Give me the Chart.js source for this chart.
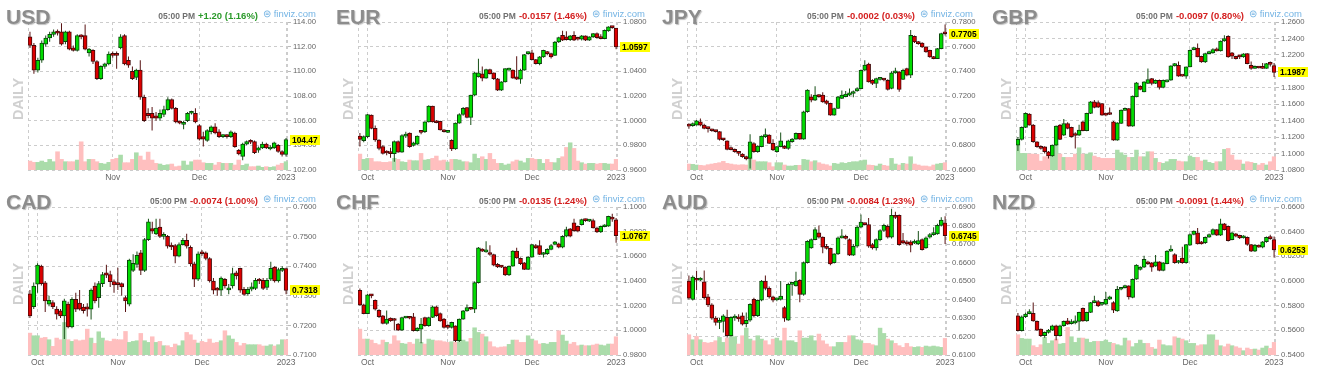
<!DOCTYPE html>
<html><head><meta charset="utf-8">
<script src="https://cdn.jsdelivr.net/npm/chart.js@4.4.1/dist/chart.umd.min.js"></script>
<style>
html,body{margin:0;padding:0;background:#fff;}
body{width:1318px;height:378px;overflow:hidden;position:relative;font-family:'Liberation Sans',Arial,sans-serif;}
.panel{position:absolute;width:330px;height:185px;}
.panel canvas{position:absolute;left:0;top:0;}
.sym{position:absolute;top:5px;font-weight:bold;font-size:21px;line-height:24px;color:#8c8c8c;text-shadow:1px 1px 1px rgba(0,0,0,0.25);}
.daily{position:absolute;left:-12px;top:91px;width:60px;height:16px;line-height:16px;text-align:center;font-weight:bold;font-size:14.5px;color:#d0d0d0;transform:rotate(-90deg);}
.hdr{position:absolute;top:8px;white-space:nowrap;line-height:12px;}
.hdr .t{font-size:8.5px;font-weight:bold;color:#707070;margin-right:3px;}
.hdr .c{font-size:9.5px;font-weight:bold;}
.fv{position:absolute;top:8px;left:262px;font-size:9.5px;line-height:12px;color:#74b4e4;white-space:nowrap;}
</style>
</head><body>
<script>
// ---- categories (trading days) ----
const datesFX = ['09-29','09-30',
 '10-03','10-04','10-05','10-06','10-07','10-10','10-11','10-12','10-13','10-14','10-17','10-18','10-19','10-20','10-21','10-24','10-25','10-26','10-27','10-28','10-31',
 '11-01','11-02','11-03','11-04','11-07','11-08','11-09','11-10','11-11','11-14','11-15','11-16','11-17','11-18','11-21','11-22','11-23','11-24','11-25','11-28','11-29','11-30',
 '12-01','12-02','12-05','12-06','12-07','12-08','12-09','12-12','12-13','12-14','12-15','12-16','12-19','12-20','12-21','12-22','12-23','12-26','12-27','12-28','12-29','12-30',
 '01-02'];
const datesUSD = datesFX.slice(2);
const monthNames = {'09':'Sep','10':'Oct','11':'Nov','12':'Dec','01':'2023'};

// ---- candles: [open, close, high, low] ----
const usdOHLC = [[112.80,112.10,113.20,111.90],[112.10,110.10,112.30,109.80],[110.10,110.90,111.10,109.90],[110.90,112.30,112.50,110.70],[112.20,112.70,112.90,112.00],[112.70,113.00,113.20,112.40],[113.00,113.20,113.40,112.80],[113.20,113.10,113.40,112.90],[113.20,112.20,113.90,112.10],[112.40,113.20,113.30,112.20],
[113.20,111.80,113.30,111.70],[111.90,111.70,112.10,111.60],[111.70,112.90,113.00,111.60],[112.90,112.80,113.00,112.60],[112.90,111.80,113.80,111.70],[111.50,111.80,111.90,111.20],[111.70,110.80,111.80,110.60],[110.80,109.40,110.90,109.30],[109.40,110.40,110.50,109.30],[110.40,110.60,110.70,110.20],
[110.60,111.40,111.60,110.50],[111.40,111.30,111.60,111.10],[111.40,111.30,111.60,110.20],[111.90,112.80,113.00,111.80],[112.90,110.60,113.00,110.50],[110.90,110.50,111.20,110.30],[110.00,109.40,110.40,109.30],[109.50,110.10,110.20,109.30],[110.10,107.90,110.90,107.70],[107.90,106.00,108.10,105.90],
[106.60,106.40,107.00,106.20],[106.60,106.20,107.10,105.20],[106.40,106.20,106.70,106.00],[106.20,106.60,106.90,106.00],[106.50,106.90,107.20,106.30],[106.90,107.70,107.90,106.80],[107.70,107.00,107.80,106.90],[107.00,105.90,107.10,105.80],[105.90,105.80,106.00,105.70],[105.70,105.80,106.00,105.30],
[106.00,106.60,106.70,105.90],[106.60,106.70,106.80,106.50],[106.60,105.90,107.00,105.80],[105.60,104.50,105.70,104.40],[104.70,104.50,105.10,103.90],[104.40,105.20,105.30,104.30],[105.10,105.50,105.60,104.90],[105.50,105.00,105.80,104.90],[105.10,104.70,105.30,104.60],[104.70,104.75,104.90,104.60],
[104.75,104.70,104.90,104.55],[104.70,105.10,105.20,104.60],[105.00,103.90,105.10,103.80],[103.60,103.30,103.70,103.20],[103.10,104.10,104.20,102.80],[104.10,104.30,104.40,104.00],[104.30,104.25,104.50,104.10],[104.30,103.40,104.40,103.30],[103.60,103.80,103.90,103.40],[103.80,104.10,104.30,103.70],
[104.10,103.80,104.20,103.70],[103.70,103.85,104.00,103.60],[103.80,104.20,104.30,103.70],[104.00,103.50,104.10,103.40],[103.50,103.27,103.60,103.10],[103.27,104.47,104.60,103.10]];
const usdVol = [27,23,23,27,23,32,25,55,32,25,25,25,30,85,25,32,32,25,20,18,23,32,35,45,22,22,32,52,42,30,54,30,20,18,14,16,18,10,12,27,15,25,30,30,22,20,20,15,23,20,20,20,15,30,14,18,10,10,12,8,10,8,10,15,20,25];

const eurOHLC = [[0.9875,0.9848,0.9900,0.9790],[0.9837,0.9870,0.9880,0.9825],[0.9870,1.0050,1.0055,0.9860],[1.0045,0.9937,1.0050,0.9930],[0.9937,0.9843,0.9960,0.9830],[0.9843,0.9775,0.9850,0.9760],[0.9790,0.9735,0.9800,0.9725],[0.9742,0.9738,0.9760,0.9720],[0.9740,0.9733,0.9780,0.9700],[0.9733,0.9830,0.9840,0.9667],
[0.9830,0.9745,0.9840,0.9740],[0.9745,0.9880,0.9890,0.9740],[0.9875,0.9885,0.9910,0.9860],[0.9900,0.9790,0.9905,0.9780],[0.9800,0.9820,0.9830,0.9790],[0.9810,0.9875,0.9880,0.9800],[0.9912,0.9905,0.9920,0.9890],[0.9910,0.9990,0.9995,0.9900],[0.9990,1.0118,1.0125,0.9985],[1.0118,0.9990,1.0120,0.9985],
[0.9998,0.9983,1.0005,0.9980],[0.9995,0.9925,1.0000,0.9920],[0.9915,0.9910,0.9930,0.9905],[0.9905,0.9915,0.9920,0.9900],[0.9840,0.9770,0.9850,0.9755],[0.9770,0.9980,0.9985,0.9765],[0.9980,1.0050,1.0060,0.9975],[1.0050,1.0100,1.0110,1.0040],[1.0107,1.0026,1.0110,1.0020],[1.0026,1.0207,1.0210,0.9964],
[1.0207,1.0387,1.0395,1.0200],[1.0355,1.0387,1.0503,1.0350],[1.0380,1.0345,1.0440,1.0320],[1.0345,1.0415,1.0420,1.0340],[1.0415,1.0382,1.0420,1.0375],[1.0387,1.0340,1.0390,1.0330],[1.0340,1.0247,1.0345,1.0240],[1.0247,1.0315,1.0320,1.0240],[1.0315,1.0422,1.0425,1.0310],[1.0410,1.0420,1.0430,1.0405],
[1.0410,1.0345,1.0415,1.0340],[1.0355,1.0336,1.0522,1.0330],[1.0336,1.0410,1.0420,1.0300],[1.0410,1.0536,1.0540,1.0405],[1.0543,1.0550,1.0560,1.0535],[1.0550,1.0495,1.0575,1.0490],[1.0495,1.0463,1.0500,1.0455],[1.0463,1.0517,1.0525,1.0450],[1.0517,1.0570,1.0575,1.0510],[1.0557,1.0544,1.0565,1.0530],
[1.0544,1.0517,1.0550,1.0505],[1.0530,1.0638,1.0645,1.0525],[1.0638,1.0673,1.0680,1.0630],[1.0692,1.0652,1.0730,1.0645],[1.0679,1.0657,1.0725,1.0650],[1.0657,1.0687,1.0695,1.0645],[1.0692,1.0652,1.0725,1.0645],[1.0665,1.0660,1.0680,1.0650],[1.0660,1.0687,1.0695,1.0650],[1.0687,1.0652,1.0690,1.0645],
[1.0652,1.0679,1.0685,1.0645],[1.0679,1.0706,1.0710,1.0670],[1.0706,1.0673,1.0715,1.0665],[1.0680,1.0665,1.0700,1.0660],[1.0665,1.0733,1.0740,1.0660],[1.0727,1.0760,1.0765,1.0720],[1.0762,1.0754,1.0768,1.0745],[1.0750,1.0597,1.0752,1.0580]];
const eurVol = [48,32,35,35,25,25,23,23,25,35,32,25,23,30,28,28,50,30,32,35,42,28,30,24,32,32,30,25,25,22,48,35,40,32,50,32,20,20,15,18,25,30,27,22,35,35,32,32,20,32,23,22,35,40,68,82,65,27,22,18,20,20,18,20,20,18,18,32];

const jpyOHLC = [[0.6972,0.6956,0.6980,0.6935],[0.6960,0.6968,0.6985,0.6950],[0.6964,0.6999,0.7005,0.6960],[0.6991,0.6964,0.7018,0.6955],[0.6964,0.6937,0.6975,0.6930],[0.6945,0.6935,0.6950,0.6905],[0.6929,0.6918,0.6935,0.6910],[0.6918,0.6911,0.6925,0.6905],[0.6911,0.6848,0.6915,0.6840],[0.6855,0.6845,0.6860,0.6835],
[0.6837,0.6767,0.6840,0.6760],[0.6775,0.6765,0.6790,0.6760],[0.6767,0.6748,0.6775,0.6740],[0.6748,0.6735,0.6755,0.6715],[0.6729,0.6708,0.6735,0.6700],[0.6708,0.6689,0.6715,0.6680],[0.6694,0.6829,0.6890,0.6613],[0.6815,0.6748,0.6825,0.6740],[0.6748,0.6794,0.6800,0.6740],[0.6789,0.6875,0.6880,0.6785],
[0.6870,0.6878,0.6937,0.6860],[0.6883,0.6816,0.6890,0.6810],[0.6816,0.6762,0.6850,0.6755],[0.6748,0.6789,0.6795,0.6740],[0.6789,0.6837,0.6905,0.6785],[0.6789,0.6775,0.6800,0.6770],[0.6775,0.6837,0.6845,0.6765],[0.6830,0.6850,0.6860,0.6820],[0.6850,0.6897,0.6905,0.6845],[0.6897,0.6850,0.6900,0.6845],
[0.6850,0.7072,0.7080,0.6845],[0.7072,0.7247,0.7255,0.7065],[0.7193,0.7166,0.7215,0.7150],[0.7166,0.7207,0.7280,0.7160],[0.7207,0.7195,0.7215,0.7185],[0.7207,0.7153,0.7230,0.7145],[0.7160,0.7140,0.7170,0.7130],[0.7140,0.7045,0.7145,0.7040],[0.7045,0.7099,0.7105,0.7040],[0.7099,0.7193,0.7200,0.7095],
[0.7180,0.7207,0.7245,0.7175],[0.7195,0.7215,0.7240,0.7190],[0.7207,0.7225,0.7260,0.7200],[0.7220,0.7235,0.7245,0.7190],[0.7242,0.7260,0.7270,0.7235],[0.7260,0.7409,0.7415,0.7255],[0.7409,0.7450,0.7490,0.7400],[0.7458,0.7315,0.7470,0.7310],[0.7328,0.7301,0.7335,0.7290],[0.7301,0.7342,0.7348,0.7265],
[0.7335,0.7340,0.7345,0.7325],[0.7338,0.7330,0.7345,0.7320],[0.7328,0.7253,0.7335,0.7245],[0.7261,0.7388,0.7400,0.7255],[0.7388,0.7396,0.7430,0.7380],[0.7396,0.7253,0.7400,0.7235],[0.7334,0.7409,0.7420,0.7330],[0.7423,0.7369,0.7430,0.7360],[0.7369,0.7692,0.7735,0.7345],[0.7684,0.7638,0.7690,0.7630],
[0.7638,0.7625,0.7645,0.7615],[0.7630,0.7598,0.7635,0.7590],[0.7598,0.7557,0.7602,0.7550],[0.7571,0.7517,0.7575,0.7510],[0.7520,0.7503,0.7525,0.7498],[0.7503,0.7584,0.7590,0.7500],[0.7584,0.7707,0.7712,0.7580],[0.7712,0.7705,0.7780,0.7690]];
const jpyVol = [18,17,15,14,13,16,18,20,22,26,20,18,16,15,16,15,35,30,25,25,25,22,10,22,22,15,12,12,14,14,32,30,25,28,22,18,16,12,20,18,22,20,23,25,25,28,30,15,14,12,18,14,12,35,18,15,20,18,40,18,15,12,12,10,15,18,20,22];

const gbpOHLC = [[1.1103,1.1172,1.1200,1.1030],[1.1172,1.1318,1.1330,1.1160],[1.1318,1.1488,1.1500,1.1310],[1.1480,1.1346,1.1490,1.1340],[1.1346,1.1144,1.1360,1.1130],[1.1144,1.1083,1.1150,1.1070],[1.1083,1.1063,1.1100,1.1050],[1.1083,1.1022,1.1090,1.1000],[1.1022,1.0970,1.1030,1.0940],[1.0970,1.1103,1.1110,1.0960],
[1.1103,1.1334,1.1340,1.1095],[1.1346,1.1172,1.1360,1.1165],[1.1225,1.1366,1.1420,1.1215],[1.1366,1.1306,1.1380,1.1295],[1.1318,1.1205,1.1325,1.1195],[1.1230,1.1220,1.1260,1.1063],[1.1225,1.1285,1.1350,1.1215],[1.1387,1.1277,1.1395,1.1270],[1.1277,1.1488,1.1495,1.1270],[1.1488,1.1629,1.1640,1.1480],
[1.1629,1.1560,1.1650,1.1550],[1.1620,1.1565,1.1645,1.1555],[1.1609,1.1467,1.1615,1.1460],[1.1480,1.1467,1.1490,1.1455],[1.1490,1.1475,1.1560,1.1470],[1.1387,1.1164,1.1395,1.1155],[1.1164,1.1375,1.1380,1.1155],[1.1366,1.1528,1.1535,1.1360],[1.1525,1.1548,1.1560,1.1520],[1.1548,1.1334,1.1555,1.1325],
[1.1334,1.1698,1.1705,1.1325],[1.1690,1.1860,1.1870,1.1685],[1.1819,1.1779,1.1830,1.1770],[1.1751,1.1872,1.1880,1.1745],[1.1852,1.1900,1.2034,1.1845],[1.1912,1.1852,1.1920,1.1830],[1.1852,1.1892,1.1900,1.1845],[1.1892,1.1803,1.1900,1.1780],[1.1803,1.1892,1.1900,1.1795],[1.1872,1.1892,1.1900,1.1865],
[1.1892,1.2066,1.2075,1.1885],[1.2066,1.2094,1.2100,1.2060],[1.2074,1.1941,1.2120,1.1935],[1.1945,1.1941,1.1950,1.1935],[1.1941,1.2054,1.2060,1.1910],[1.2054,1.2256,1.2265,1.2050],[1.2264,1.2284,1.2300,1.2255],[1.2284,1.2175,1.2340,1.2170],[1.2183,1.2115,1.2190,1.2105],[1.2115,1.2216,1.2225,1.2100],
[1.2216,1.2235,1.2250,1.2210],[1.2224,1.2264,1.2280,1.2215],[1.2264,1.2248,1.2290,1.2240],[1.2248,1.2369,1.2375,1.2240],[1.2369,1.2398,1.2440,1.2360],[1.2426,1.2175,1.2440,1.2165],[1.2224,1.2183,1.2235,1.2150],[1.2183,1.2155,1.2190,1.2145],[1.2195,1.2175,1.2200,1.2150],[1.2175,1.2212,1.2220,1.2165],
[1.2216,1.2094,1.2220,1.2085],[1.2074,1.2034,1.2120,1.2020],[1.2034,1.2062,1.2070,1.2030],[1.2055,1.2040,1.2065,1.2035],[1.2045,1.2036,1.2100,1.2030],[1.2036,1.2094,1.2100,1.2030],[1.2090,1.2084,1.2120,1.2060],[1.2070,1.1987,1.2100,1.1930]];
const gbpVol = [75,50,50,48,48,47,27,40,40,65,78,48,38,38,38,48,67,48,48,52,42,38,35,35,35,35,60,52,45,38,38,60,40,40,55,55,35,23,20,25,32,32,27,25,25,42,38,38,27,30,23,20,25,25,62,65,45,30,30,18,25,23,20,15,20,15,25,40];

const cadOHLC = [[0.7307,0.7232,0.7320,0.7225],[0.7263,0.7333,0.7345,0.7255],[0.7339,0.7404,0.7410,0.7310],[0.7400,0.7341,0.7405,0.7335],[0.7344,0.7283,0.7350,0.7245],[0.7272,0.7285,0.7300,0.7265],[0.7277,0.7263,0.7285,0.7255],[0.7255,0.7238,0.7265,0.7220],[0.7249,0.7232,0.7255,0.7225],[0.7232,0.7283,0.7290,0.7154],
[0.7272,0.7195,0.7280,0.7190],[0.7195,0.7288,0.7295,0.7190],[0.7288,0.7255,0.7310,0.7245],[0.7275,0.7255,0.7320,0.7250],[0.7262,0.7250,0.7272,0.7240],[0.7263,0.7255,0.7275,0.7230],[0.7255,0.7319,0.7325,0.7220],[0.7333,0.7283,0.7345,0.7275],[0.7294,0.7341,0.7350,0.7260],[0.7341,0.7372,0.7380,0.7330],
[0.7378,0.7370,0.7405,0.7360],[0.7372,0.7348,0.7385,0.7330],[0.7348,0.7337,0.7355,0.7310],[0.7341,0.7338,0.7395,0.7320],[0.7341,0.7330,0.7345,0.7300],[0.7294,0.7283,0.7300,0.7245],[0.7272,0.7421,0.7425,0.7265],[0.7386,0.7410,0.7440,0.7380],[0.7406,0.7437,0.7450,0.7395],[0.7445,0.7386,0.7455,0.7370],
[0.7386,0.7490,0.7495,0.7380],[0.7490,0.7550,0.7560,0.7485],[0.7527,0.7518,0.7550,0.7510],[0.7509,0.7529,0.7560,0.7505],[0.7532,0.7501,0.7560,0.7495],[0.7501,0.7505,0.7515,0.7490],[0.7501,0.7468,0.7505,0.7460],[0.7470,0.7465,0.7480,0.7455],[0.7470,0.7434,0.7475,0.7410],[0.7434,0.7473,0.7480,0.7430],
[0.7473,0.7487,0.7495,0.7470],[0.7487,0.7468,0.7510,0.7460],[0.7464,0.7408,0.7470,0.7400],[0.7408,0.7356,0.7415,0.7330],[0.7356,0.7442,0.7450,0.7350],[0.7448,0.7442,0.7455,0.7435],[0.7445,0.7426,0.7450,0.7420],[0.7426,0.7350,0.7430,0.7345],[0.7350,0.7319,0.7360,0.7305],[0.7322,0.7319,0.7330,0.7300],
[0.7319,0.7360,0.7365,0.7300],[0.7356,0.7333,0.7360,0.7325],[0.7320,0.7322,0.7340,0.7305],[0.7333,0.7375,0.7395,0.7325],[0.7378,0.7367,0.7385,0.7355],[0.7393,0.7319,0.7395,0.7310],[0.7322,0.7305,0.7330,0.7300],[0.7307,0.7322,0.7330,0.7300],[0.7322,0.7330,0.7345,0.7315],[0.7325,0.7352,0.7360,0.7320],
[0.7352,0.7350,0.7360,0.7340],[0.7352,0.7325,0.7360,0.7320],[0.7328,0.7352,0.7360,0.7320],[0.7356,0.7393,0.7415,0.7350],[0.7397,0.7350,0.7400,0.7345],[0.7350,0.7389,0.7395,0.7345],[0.7386,0.7392,0.7400,0.7380],[0.7392,0.7318,0.7395,0.7305]];
const cadVol = [66,58,58,51,53,46,26,51,46,98,46,41,46,43,45,78,51,35,70,51,43,41,48,46,46,71,38,41,43,65,43,38,55,38,41,28,28,23,33,28,43,68,61,45,36,41,38,48,36,38,43,73,58,48,38,28,35,31,31,31,31,27,27,31,27,31,46,46];

const chfOHLC = [[1.0325,1.0206,1.0340,1.0200],[1.0206,1.0136,1.0215,1.0130],[1.0136,1.0287,1.0295,1.0130],[1.0287,1.0280,1.0295,1.0260],[1.0244,1.0171,1.0250,1.0160],[1.0163,1.0110,1.0170,1.0100],[1.0118,1.0056,1.0125,1.0050],[1.0056,1.0091,1.0160,1.0045],[1.0099,1.0077,1.0105,1.0070],[1.0095,1.0080,1.0100,1.0000],
[1.0050,1.0002,1.0060,0.9995],[1.0002,1.0104,1.0110,0.9995],[1.0100,1.0104,1.0115,1.0095],[1.0104,1.0098,1.0112,1.0090],[1.0110,0.9997,1.0140,0.9990],[0.9997,1.0018,1.0025,0.9990],[1.0010,1.0050,1.0100,0.9895],[1.0104,1.0037,1.0110,1.0030],[1.0037,1.0104,1.0110,1.0030],[1.0104,1.0190,1.0200,1.0100],
[1.0190,1.0118,1.0200,1.0110],[1.0136,1.0077,1.0145,1.0070],[1.0091,1.0024,1.0100,1.0015],[1.0037,1.0024,1.0050,1.0010],[1.0024,1.0064,1.0070,1.0015],[1.0037,0.9916,1.0040,0.9905],[0.9916,1.0091,1.0095,0.9905],[1.0091,1.0158,1.0165,1.0085],[1.0158,1.0185,1.0210,1.0150],[1.0185,1.0171,1.0190,1.0165],
[1.0171,1.0387,1.0395,1.0140],[1.0387,1.0669,1.0675,1.0380],[1.0656,1.0642,1.0665,1.0635],[1.0636,1.0645,1.0723,1.0630],[1.0629,1.0615,1.0690,1.0605],[1.0615,1.0529,1.0620,1.0520],[1.0535,1.0515,1.0545,1.0505],[1.0520,1.0513,1.0530,1.0505],[1.0513,1.0449,1.0520,1.0440],[1.0449,1.0521,1.0525,1.0440],
[1.0521,1.0642,1.0650,1.0515],[1.0642,1.0588,1.0670,1.0580],[1.0583,1.0540,1.0590,1.0530],[1.0548,1.0494,1.0555,1.0490],[1.0494,1.0594,1.0600,1.0490],[1.0594,1.0696,1.0700,1.0590],[1.0688,1.0669,1.0700,1.0660],[1.0688,1.0615,1.0730,1.0610],[1.0615,1.0625,1.0635,1.0590],[1.0621,1.0656,1.0665,1.0610],
[1.0656,1.0688,1.0700,1.0650],[1.0696,1.0718,1.0725,1.0690],[1.0701,1.0674,1.0710,1.0665],[1.0674,1.0763,1.0770,1.0665],[1.0763,1.0817,1.0840,1.0755],[1.0822,1.0763,1.0830,1.0755],[1.0871,1.0809,1.0905,1.0800],[1.0844,1.0804,1.0850,1.0795],[1.0857,1.0898,1.0905,1.0850],[1.0898,1.0890,1.0905,1.0880],
[1.0885,1.0892,1.0900,1.0878],[1.0890,1.0830,1.0905,1.0825],[1.0830,1.0798,1.0840,1.0790],[1.0798,1.0844,1.0850,1.0790],[1.0840,1.0850,1.0860,1.0835],[1.0844,1.0925,1.0930,1.0840],[1.0917,1.0902,1.0945,1.0880],[1.0895,1.0767,1.0910,1.0710]];
const chfVol = [78,48,48,45,35,31,45,38,33,58,43,35,33,38,33,48,38,33,48,45,43,43,40,38,40,38,40,45,40,50,82,68,63,55,40,25,22,24,25,32,45,45,38,38,58,48,43,33,35,33,38,38,73,60,42,33,38,28,30,28,28,30,33,30,28,33,33,55];

const audOHLC = [[0.6500,0.6407,0.6530,0.6400],[0.6401,0.6521,0.6530,0.6395],[0.6512,0.6504,0.6555,0.6450],[0.6505,0.6508,0.6520,0.6500],[0.6496,0.6410,0.6557,0.6400],[0.6414,0.6371,0.6430,0.6360],[0.6371,0.6299,0.6380,0.6290],[0.6299,0.6276,0.6310,0.6260],[0.6276,0.6281,0.6300,0.6240],[0.6281,0.6312,0.6320,0.6222],
[0.6303,0.6204,0.6345,0.6195],[0.6204,0.6303,0.6310,0.6200],[0.6300,0.6303,0.6320,0.6285],[0.6305,0.6295,0.6320,0.6280],[0.6312,0.6267,0.6330,0.6260],[0.6270,0.6288,0.6330,0.6250],[0.6288,0.6374,0.6380,0.6280],[0.6401,0.6312,0.6410,0.6305],[0.6312,0.6396,0.6400,0.6305],[0.6396,0.6500,0.6505,0.6390],
[0.6500,0.6460,0.6530,0.6450],[0.6460,0.6414,0.6470,0.6405],[0.6414,0.6396,0.6420,0.6385],[0.6398,0.6402,0.6410,0.6390],[0.6401,0.6419,0.6500,0.6395],[0.6356,0.6299,0.6365,0.6280],[0.6288,0.6482,0.6490,0.6285],[0.6482,0.6485,0.6495,0.6420],[0.6473,0.6500,0.6550,0.6470],[0.6504,0.6428,0.6510,0.6385],
[0.6428,0.6599,0.6605,0.6420],[0.6599,0.6715,0.6720,0.6595],[0.6679,0.6724,0.6730,0.6675],[0.6724,0.6778,0.6790,0.6720],[0.6760,0.6737,0.6800,0.6730],[0.6737,0.6683,0.6740,0.6650],[0.6688,0.6676,0.6700,0.6670],[0.6676,0.6593,0.6680,0.6585],[0.6599,0.6647,0.6650,0.6595],[0.6647,0.6733,0.6740,0.6640],
[0.6733,0.6742,0.6780,0.6730],[0.6740,0.6730,0.6750,0.6725],[0.6724,0.6640,0.6730,0.6635],[0.6640,0.6688,0.6700,0.6635],[0.6688,0.6791,0.6800,0.6680],[0.6791,0.6819,0.6860,0.6785],[0.6809,0.6805,0.6815,0.6800],[0.6805,0.6688,0.6840,0.6680],[0.6697,0.6679,0.6705,0.6670],[0.6679,0.6724,0.6730,0.6665],
[0.6724,0.6773,0.6780,0.6715],[0.6773,0.6801,0.6810,0.6765],[0.6796,0.6737,0.6805,0.6730],[0.6737,0.6855,0.6890,0.6730],[0.6855,0.6844,0.6875,0.6835],[0.6855,0.6697,0.6860,0.6690],[0.6719,0.6706,0.6760,0.6700],[0.6712,0.6701,0.6720,0.6690],[0.6712,0.6694,0.6720,0.6655],[0.6705,0.6712,0.6725,0.6700],
[0.6701,0.6719,0.6770,0.6695],[0.6724,0.6670,0.6730,0.6665],[0.6679,0.6733,0.6740,0.6675],[0.6737,0.6751,0.6760,0.6730],[0.6751,0.6760,0.6790,0.6745],[0.6755,0.6801,0.6810,0.6750],[0.6801,0.6829,0.6845,0.6795],[0.6814,0.6745,0.6850,0.6700]];
const audVol = [61,46,56,46,38,36,38,43,53,38,51,61,55,33,58,81,48,43,58,48,43,31,48,51,43,81,43,43,38,73,51,51,58,43,63,43,33,25,25,38,38,38,58,58,46,43,35,35,31,28,81,65,48,43,35,28,23,35,25,23,25,23,27,25,27,25,23,50];

const nzdOHLC = [[0.5718,0.5597,0.5740,0.5590],[0.5597,0.5710,0.5720,0.5590],[0.5710,0.5731,0.5745,0.5700],[0.5735,0.5740,0.5770,0.5730],[0.5737,0.5677,0.5825,0.5670],[0.5672,0.5602,0.5680,0.5595],[0.5610,0.5556,0.5615,0.5545],[0.5556,0.5583,0.5590,0.5540],[0.5583,0.5602,0.5610,0.5575],[0.5602,0.5637,0.5645,0.5595],
[0.5637,0.5556,0.5645,0.5520],[0.5556,0.5637,0.5645,0.5550],[0.5637,0.5672,0.5680,0.5630],[0.5677,0.5650,0.5700,0.5645],[0.5655,0.5665,0.5690,0.5648],[0.5660,0.5677,0.5720,0.5650],[0.5672,0.5745,0.5750,0.5597],[0.5779,0.5677,0.5785,0.5670],[0.5677,0.5745,0.5750,0.5670],[0.5745,0.5825,0.5830,0.5740],
[0.5825,0.5839,0.5880,0.5820],[0.5834,0.5798,0.5845,0.5790],[0.5810,0.5815,0.5830,0.5800],[0.5812,0.5852,0.5910,0.5805],[0.5852,0.5871,0.5880,0.5845],[0.5825,0.5763,0.5835,0.5740],[0.5758,0.5933,0.5960,0.5750],[0.5933,0.5941,0.5950,0.5925],[0.5946,0.5960,0.5970,0.5940],[0.5960,0.5871,0.5965,0.5850],
[0.5866,0.6014,0.6020,0.5860],[0.6014,0.6129,0.6135,0.6010],[0.6094,0.6113,0.6120,0.6085],[0.6113,0.6175,0.6205,0.6105],[0.6156,0.6140,0.6165,0.6130],[0.6148,0.6113,0.6155,0.6075],[0.6121,0.6156,0.6210,0.6115],[0.6156,0.6086,0.6160,0.6080],[0.6086,0.6148,0.6155,0.6080],[0.6140,0.6242,0.6250,0.6135],
[0.6242,0.6248,0.6290,0.6235],[0.6215,0.6148,0.6225,0.6140],[0.6150,0.6160,0.6170,0.6140],[0.6185,0.6148,0.6277,0.6140],[0.6148,0.6296,0.6300,0.6140],[0.6291,0.6377,0.6385,0.6285],[0.6377,0.6404,0.6410,0.6370],[0.6390,0.6301,0.6430,0.6295],[0.6318,0.6301,0.6325,0.6295],[0.6310,0.6355,0.6360,0.6300],
[0.6355,0.6377,0.6385,0.6350],[0.6377,0.6417,0.6425,0.6370],[0.6417,0.6371,0.6420,0.6365],[0.6371,0.6463,0.6505,0.6365],[0.6463,0.6417,0.6470,0.6410],[0.6444,0.6328,0.6450,0.6320],[0.6336,0.6390,0.6400,0.6330],[0.6382,0.6363,0.6390,0.6355],[0.6371,0.6350,0.6375,0.6340],[0.6350,0.6355,0.6370,0.6345],
[0.6355,0.6296,0.6360,0.6285],[0.6296,0.6242,0.6300,0.6235],[0.6242,0.6291,0.6300,0.6235],[0.6291,0.6275,0.6295,0.6270],[0.6275,0.6318,0.6325,0.6265],[0.6318,0.6355,0.6360,0.6310],[0.6355,0.6344,0.6375,0.6335],[0.6336,0.6253,0.6360,0.6190]];
const nzdVol = [61,50,48,48,28,23,31,53,35,43,48,33,35,83,55,38,51,51,48,38,41,41,41,45,38,35,31,28,51,43,25,35,45,35,35,23,18,45,31,28,28,55,51,48,43,35,35,28,31,31,61,61,45,28,25,33,28,25,21,13,21,17,18,15,21,27,20,38];

// ---- panel texts and axis ranges ----
const symbols = ['USD','EUR','JPY','GBP','CAD','CHF','AUD','NZD'];
const changes = ['+1.20 (1.16%)','-0.0157 (1.46%)','-0.0002 (0.03%)','-0.0097 (0.80%)','-0.0074 (1.00%)','-0.0135 (1.24%)','-0.0084 (1.23%)','-0.0091 (1.44%)'];
const yMins  = [102, 0.96, 0.66, 1.08, 0.71, 0.98, 0.61, 0.54];
const yMaxs  = [114, 1.08, 0.78, 1.26, 0.76, 1.10, 0.69, 0.66];
const ySteps = [2, 0.02, 0.02, 0.02, 0.01, 0.02, 0.01, 0.02];
const yDecimals = [2, 4, 4, 4, 4, 4, 4, 4];
const timeText = '05:00 PM';

const seriesOHLC = [usdOHLC, eurOHLC, jpyOHLC, gbpOHLC, cadOHLC, chfOHLC, audOHLC, nzdOHLC];
const seriesVol = [usdVol, eurVol, jpyVol, gbpVol, cadVol, chfVol, audVol, nzdVol];
const seriesDates = [datesUSD, datesFX, datesFX, datesFX, datesFX, datesFX, datesFX, datesFX];

const panelLeft = [0, 330, 659, 988];
const titleLeft = [6, 6, 3, 4];
const hdrShift = [1, 0, -1, -1];

const framePlugin = {
  id: 'frame',
  beforeDatasetsDraw(chart) {
    const {ctx, chartArea: a} = chart;
    ctx.save();
    ctx.strokeStyle = '#cccccc';
    ctx.lineWidth = 1;
    ctx.setLineDash([3, 3]);
    ctx.beginPath();
    const xl = Math.round(a.left) + 0.5, xr = Math.round(a.right) - 0.5;
    ctx.moveTo(xl, a.top); ctx.lineTo(xl, a.bottom);
    ctx.moveTo(xr, a.top); ctx.lineTo(xr, a.bottom);
    ctx.stroke();
    ctx.restore();
  },
  afterDraw(chart, args, opts) {
    const {ctx, chartArea: a} = chart;
    const y = chart.scales.y.getPixelForValue(opts.last);
    ctx.save();
    ctx.fillStyle = '#ffff00';
    ctx.fillRect(Math.round(a.right) + 2, Math.round(y - 5), 30, 10);
    ctx.fillStyle = '#000';
    ctx.font = 'bold 8.4px "Liberation Sans", Arial, sans-serif';
    ctx.textBaseline = 'middle';
    ctx.textAlign = 'left';
    ctx.fillText(opts.last.toFixed(opts.dec), Math.round(a.right) + 4, Math.round(y - 5) + 5.5);
    ctx.restore();
  }
};

function isMonthStart(dates, i) {
  return i > 0 && dates[i].slice(0, 2) !== dates[i - 1].slice(0, 2);
}

for (let k = 0; k < 8; k++) {
  const row = Math.floor(k / 4), col = k % 4;
  const panel = document.createElement('div');
  panel.className = 'panel';
  panel.style.left = panelLeft[col] + 'px';
  panel.style.top = (row * 185) + 'px';
  const dec = yDecimals[k];
  const up = changes[k].charAt(0) === '+';
  panel.innerHTML =
    '<canvas width="330" height="185"></canvas>' +
    '<div class="sym" style="left:' + titleLeft[col] + 'px">' + symbols[k] + '</div>' +
    '<div class="daily">DAILY</div>' +
    '<div class="hdr" style="right:' + (330 - 257 - hdrShift[col]) + 'px"><span class="t">' + timeText + '</span><span class="c" style="color:' + (up ? '#2a9a2a' : '#d42020') + '">' + changes[k] + '</span></div>' +
    '<div class="fv" style="left:' + (262 + hdrShift[col]) + 'px">&#x229C; finviz.com</div>';
  document.body.appendChild(panel);

  const ohlc = seriesOHLC[k], vol = seriesVol[k], dates = seriesDates[k];
  const isUp = ohlc.map(d => d[1] >= d[0]);
  const last = ohlc[ohlc.length - 1][1];

  new Chart(panel.querySelector('canvas'), {
    type: 'bar',
    data: {
      labels: dates,
      datasets: [
        { data: ohlc.map(d => [d[0], d[1]]), yAxisID: 'y', order: 1, grouped: false,
          backgroundColor: isUp.map(u => u ? '#00dc00' : '#dc0000'),
          borderColor: isUp.map(u => u ? '#0b420b' : '#420b0b'),
          borderWidth: 1, borderSkipped: false, barThickness: 4, minBarLength: 2 },
        { data: ohlc.map(d => [d[3], d[2]]), yAxisID: 'y', order: 2, grouped: false,
          backgroundColor: isUp.map(u => u ? '#175017' : '#571212'),
          borderWidth: 0, barThickness: 1, inflateAmount: 0 },
        { data: vol, yAxisID: 'yv', order: 3, grouped: false,
          backgroundColor: isUp.map(u => u ? '#aadcaa' : '#ffbfbf'),
          barPercentage: 1, categoryPercentage: 1 }
      ]
    },
    options: {
      responsive: false, animation: false, devicePixelRatio: 1,
      layout: { padding: { left: 28, top: 22, right: 0, bottom: 0 } },
      plugins: { legend: { display: false }, tooltip: { enabled: false }, frame: { last: last, dec: dec } },
      scales: {
        x: {
          type: 'category', offset: true,
          grid: { offset: false, color: '#cccccc', drawTicks: false, lineWidth: 1 },
          border: { display: false, dash: [3, 3] },
          ticks: { autoSkip: false, maxRotation: 0, padding: 3, color: '#666',
            font: { family: 'Liberation Sans', size: 8.5 },
            callback: function (v) { return monthNames[dates[v].slice(0, 2)]; } },
          afterBuildTicks: ax => { ax.ticks = ax.ticks.filter(t => isMonthStart(dates, t.value)); },
          afterFit: ax => { ax.height = 15; }
        },
        y: {
          position: 'right', min: yMins[k], max: yMaxs[k],
          ticks: { stepSize: ySteps[k], autoSkip: false, padding: 2, color: '#666',
            font: { family: 'Liberation Sans', size: 7.7 },
            callback: v => Number(v).toFixed(dec) },
          grid: { color: '#cccccc', tickLength: 3, tickColor: '#bbbbbb', lineWidth: 1 },
          border: { display: false, dash: [3, 3] },
          afterFit: ax => { ax.width = 42; }
        },
        yv: { display: false, min: 0, max: 446 }
      }
    },
    plugins: [framePlugin]
  });
}
</script>
</body></html>
